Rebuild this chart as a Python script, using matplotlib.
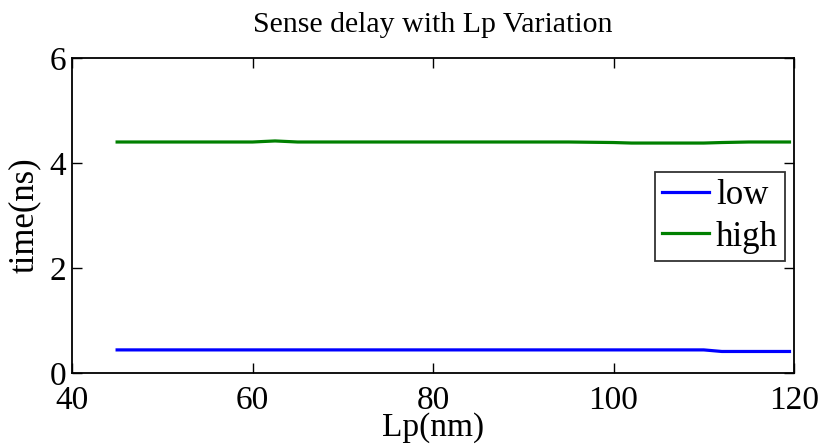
import matplotlib
matplotlib.use("Agg")
import matplotlib.pyplot as plt

lp = [45, 50, 55, 60, 62.5, 65, 70, 80, 90, 95, 100, 102, 105, 110, 112, 115, 119.5]
low = [0.44, 0.44, 0.44, 0.44, 0.44, 0.44, 0.44, 0.44, 0.44, 0.44, 0.44, 0.44, 0.44, 0.44, 0.41, 0.41, 0.41]
high = [4.40, 4.40, 4.40, 4.40, 4.42, 4.40, 4.40, 4.40, 4.40, 4.40, 4.39, 4.38, 4.38, 4.38, 4.39, 4.40, 4.40]

xticks = [40, 60, 80, 100, 120]
yticks = [0, 2, 4, 6]

plt.rcParams['font.family'] = ['Liberation Serif', 'DejaVu Serif']

fig = plt.figure(figsize=(8.23, 4.46), dpi=100)
ax = fig.add_axes([72/823, 1-373/446, (794-72)/823, (373-58)/446])

ax.plot(lp, low, color='#0000ff', lw=2.3, label='low')
ax.plot(lp, high, color='#008000', lw=2.3, label='high')

ax.set_xlim(40, 120)
ax.set_ylim(0, 6)
ax.set_xticks(xticks)
ax.set_yticks(yticks)
ax.tick_params(direction='in', length=7, width=1, top=True, right=True, labelsize=24)
ax.tick_params(axis='x', pad=9)
ax.tick_params(axis='y', pad=4)
for s in ax.spines.values():
    s.set_linewidth(1.3)

ax.set_xlabel('Lp(nm)', fontsize=24, labelpad=-3)
ax.set_ylabel('time(ns)', fontsize=25, labelpad=6)
ax.set_title('Sense delay with Lp Variation', fontsize=21.5, pad=19)

leg = ax.legend(loc='upper left', bbox_to_anchor=((655-72)/722, (373-172)/315), fontsize=25,
                frameon=True, fancybox=False, edgecolor='black', borderpad=0.2,
                handlelength=1.35, handletextpad=0.2, labelspacing=0.25, borderaxespad=0)
leg.get_frame().set_linewidth(1.3)

fig.savefig('out.png', dpi=100)
